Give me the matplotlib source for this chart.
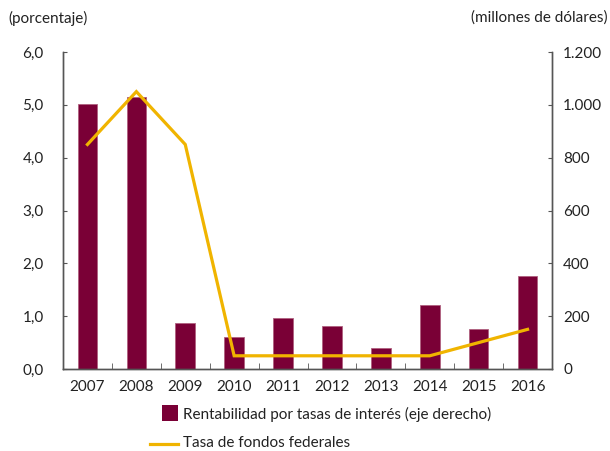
import matplotlib
matplotlib.use("Agg")
import matplotlib.pyplot as plt
from matplotlib.patches import Rectangle
from matplotlib.lines import Line2D

plt.rcParams['font.family'] = ['Lato', 'DejaVu Sans']
plt.rcParams['font.size'] = 11

# data
years = ['2007', '2008', '2009', '2010', '2011', '2012', '2013', '2014', '2015', '2016']
rentabilidad = [1005, 1030, 174, 120, 192, 162, 78, 241, 150, 352]   # millones de dolares (eje derecho)
tasa_fed = [4.25, 5.25, 4.25, 0.25, 0.25, 0.25, 0.25, 0.25, 0.5, 0.75]  # porcentaje

left_ticks = [0, 1, 2, 3, 4, 5, 6]
left_labels = ['0,0', '1,0', '2,0', '3,0', '4,0', '5,0', '6,0']
right_ticks = [0, 200, 400, 600, 800, 1000, 1200]
right_labels = ['0', '200', '400', '600', '800', '1.000', '1.200']

bar_color = '#7a0036'
line_color = '#f0b400'
txt = '#222222'
spine_c = '#555555'

W, H = 610, 451
fig = plt.figure(figsize=(W / 100, H / 100), dpi=100)
ax = fig.add_axes([63 / W, 1 - 369 / H, (552 - 63) / W, (369 - 52) / H])
ax2 = ax.twinx()

x = list(range(len(years)))
ax2.bar(x, rentabilidad, width=0.4, color=bar_color, edgecolor='#b0607f', linewidth=0.6, zorder=2)
ax.plot(x, tasa_fed, color=line_color, lw=2.3, zorder=5, solid_joinstyle='miter')

# put the line above the bars
ax.set_zorder(ax2.get_zorder() + 1)
ax.patch.set_visible(False)

ax.set_xlim(-0.5, len(years) - 0.5)
ax.set_ylim(0, 6)
ax2.set_ylim(0, 1200)

ax.set_yticks(left_ticks)
ax.set_yticklabels(left_labels)
ax2.set_yticks(right_ticks)
ax2.set_yticklabels(right_labels)

ax.set_xticks(x)
ax.set_xticklabels(years)
ax.set_xticks([i + 0.5 for i in range(len(years) - 1)], minor=True)
ax.tick_params(axis='x', which='major', length=0, pad=8, colors=txt)
ax.tick_params(axis='x', which='minor', direction='in', length=4, color=spine_c)
ax.tick_params(axis='y', direction='in', length=3, pad=14, colors=txt, color=spine_c)
ax2.tick_params(axis='y', direction='in', length=3, pad=8, colors=txt, color=spine_c)

for a in (ax, ax2):
    a.spines['top'].set_visible(False)
    for s in ('left', 'right', 'bottom'):
        a.spines[s].set_color(spine_c)
        a.spines[s].set_linewidth(1.0)

fig.text(8 / W, 1 - 18 / H, '(porcentaje)', ha='left', va='center', color=txt)
fig.text(608 / W, 1 - 18 / H, '(millones de dólares)', ha='right', va='center', color=txt)

# legend drawn by hand to match layout
fig.add_artist(Rectangle((162 / W, 1 - 421 / H), 16 / W, 16 / H, transform=fig.transFigure,
                         facecolor=bar_color, edgecolor='none'))
fig.text(183 / W, 1 - 414 / H, 'Rentabilidad por tasas de interés (eje derecho)', ha='left', va='center', color=txt)
fig.add_artist(Line2D([150 / W, 178 / W], [1 - 444 / H, 1 - 444 / H], transform=fig.transFigure,
                      color=line_color, lw=2.3))
fig.text(183 / W, 1 - 443 / H, 'Tasa de fondos federales', ha='left', va='center', color=txt)

fig.savefig('out.png', dpi=100)
